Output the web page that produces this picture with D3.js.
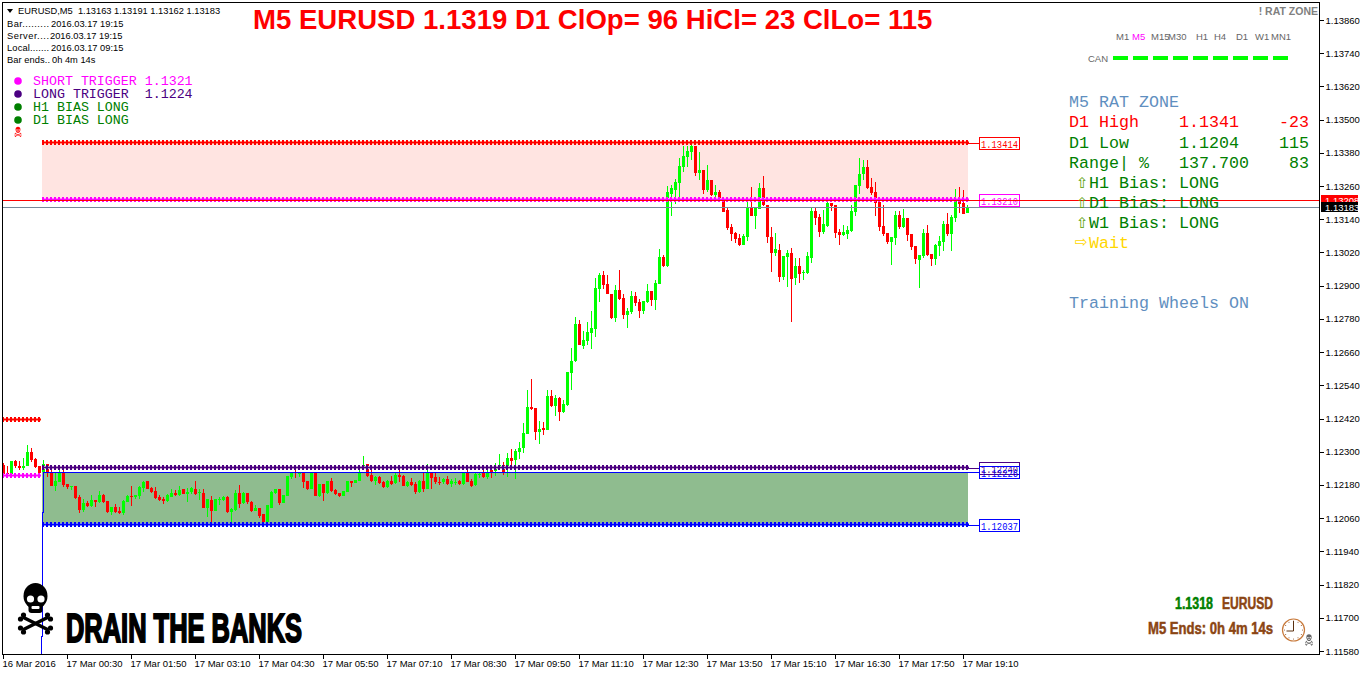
<!DOCTYPE html>
<html>
<head>
<meta charset="utf-8">
<script src="https://cdn.jsdelivr.net/npm/d3@7"></script>
<style>
  html, body { margin: 0; background: #fff; }
  svg { display: block; }
  text { white-space: pre; }
</style>
</head>
<body>
<script>
// EURUSD M5 quotes in points (1.13183 = 113183)
const opens = [
  112252,112222,112219,112266,112250,112241,112248,112299,112273,112248,
  112228,112255,112228,112177,112192,112224,112183,112172,112176,112136,
  112090,112114,112105,112125,112118,112143,112123,112082,112099,112085,
  112078,112119,112140,112136,112140,112169,112194,112169,112158,112136,
  112129,112121,112136,112150,112143,112165,112148,112154,112165,112150,
  112150,112096,112125,112085,112125,112125,112136,112082,112089,112150,
  112114,112150,112118,112085,112096,112075,112046,112098,112150,112165,
  112114,112141,112208,112225,112219,112225,112194,112165,112222,112140,
  112183,112150,112194,112161,112150,112140,112154,112194,112187,112194,
  112241,112255,112216,112194,112208,112190,112172,112194,112187,112216,
  112212,112176,112190,112183,112154,112194,112165,112223,112208,112192,
  112189,112201,112183,112189,112194,112183,112226,112194,112179,112216,
  112223,112208,112234,112231,112241,112252,112237,112277,112270,112299,
  112313,112364,112462,112458,112371,112386,112378,112501,112465,112494,
  112444,112469,112584,112628,112762,112682,112700,112729,112743,112888,
  112939,112906,112870,112783,112884,112856,112794,112805,112863,112841,
  112809,112841,112881,112848,112906,113003,112970,113231,113245,113270,
  113328,113364,113382,113404,113307,113317,113245,113281,113227,113238,
  113213,113173,113111,113090,113072,113046,113075,113183,113151,113176,
  113252,113191,113075,113017,113028,112931,113003,113017,112927,112970,
  112945,112945,112999,113169,113148,113093,113115,113198,113191,113093,
  113083,113086,113097,113166,113260,113303,113328,113256,113238,113202,
  113115,113090,113057,113072,113155,113111,113144,113086,113043,112992,
  113007,113090,113014,112996,113043,113057,113122,113086,113144,113209,
  113198,113163
];
const highs = [
  112260,112248,112267,112270,112267,112276,112324,112313,112276,112248,
  112270,112255,112240,112222,112240,112234,112183,112178,112176,112143,
  112131,112121,112142,112125,112158,112149,112123,112099,112111,112101,
  112125,112143,112176,112145,112176,112195,112194,112172,112173,112143,
  112137,112147,112167,112161,112176,112165,112169,112173,112194,112164,
  112165,112131,112140,112131,112137,112140,112140,112095,112161,112179,
  112155,112150,112121,112107,112096,112075,112107,112158,112165,112165,
  112143,112212,112223,112234,112225,112225,112194,112222,112222,112183,
  112183,112194,112205,112165,112150,112158,112194,112194,112197,112236,
  112284,112255,112240,112212,112212,112194,112197,112212,112222,112240,
  112216,112193,112205,112190,112197,112226,112255,112226,112222,112208,
  112204,112212,112201,112204,112197,112226,112237,112201,112226,112226,
  112237,112240,112240,112258,112291,112262,112294,112309,112309,112335,
  112404,112523,112563,112458,112411,112407,112523,112523,112505,112498,
  112487,112588,112675,112787,112776,112736,112769,112809,112928,112946,
  112953,112939,112870,112903,112957,112870,112819,112881,112877,112852,
  112845,112906,112881,112921,113032,113010,113260,113263,113285,113361,
  113404,113404,113414,113404,113382,113317,113336,113281,113263,113245,
  113213,113180,113122,113093,113086,113086,113209,113256,113180,113270,
  113296,113191,113111,113090,113050,113007,113028,113036,112999,112999,
  112956,113021,113180,113180,113158,113173,113209,113198,113191,113104,
  113119,113115,113191,113263,113361,113354,113354,113289,113274,113209,
  113191,113090,113075,113169,113169,113176,113144,113086,113043,113010,
  113104,113119,113014,113050,113079,113133,113161,113155,113249,113256,
  113245,113191
];
const lows = [
  112210,112204,112216,112243,112234,112234,112248,112264,112240,112219,
  112224,112210,112177,112158,112192,112172,112165,112161,112130,112080,
  112083,112101,112101,112101,112116,112116,112079,112070,112079,112075,
  112071,112117,112105,112128,112131,112155,112165,112152,112129,112121,
  112111,112118,112135,112140,112141,112147,112118,112149,112143,112125,
  112096,112063,112043,112085,112107,112121,112078,112047,112085,112095,
  112111,112111,112082,112085,112060,112046,112043,112095,112148,112107,
  112114,112141,112200,112204,112209,112169,112161,112165,112140,112136,
  112121,112147,112154,112143,112136,112140,112154,112173,112187,112194,
  112234,112210,112190,112179,112183,112169,112170,112179,112185,112192,
  112176,112172,112176,112147,112150,112154,112164,112165,112183,112179,
  112183,112179,112173,112179,112179,112179,112190,112172,112177,112204,
  112204,112200,112205,112212,112236,112216,112210,112248,112201,112273,
  112295,112364,112451,112342,112328,112360,112378,112462,112429,112411,
  112440,112465,112523,112624,112686,112671,112686,112671,112715,112841,
  112888,112870,112780,112769,112848,112780,112747,112798,112827,112783,
  112798,112837,112827,112812,112906,112967,112967,113151,113195,113220,
  113310,113328,113354,113296,113281,113231,113238,113223,113221,113209,
  113166,113101,113061,113054,113043,113046,113061,113151,113104,113176,
  113187,113054,112949,113007,112913,112920,112895,112768,112902,112909,
  112920,112942,112981,113119,113075,113086,113111,113169,113072,113046,
  113079,113068,113093,113151,113231,113281,113249,113227,113151,113097,
  113079,113050,112974,113046,113104,113108,113061,113028,112978,112891,
  112999,113007,112970,112974,113007,113025,113079,113025,113130,113162,
  113158,113162
];
const closes = [
  112216,112216,112266,112248,112241,112248,112299,112270,112245,112223,
  112255,112228,112177,112194,112224,112179,112172,112176,112132,112090,
  112114,112105,112125,112118,112143,112118,112082,112099,112082,112078,
  112121,112140,112137,112143,112172,112190,112165,112154,112132,112125,
  112121,112143,112150,112143,112161,112147,112155,112169,112147,112153,
  112096,112129,112085,112129,112129,112136,112082,112093,112150,112111,
  112150,112118,112085,112096,112067,112046,112106,112155,112165,112114,
  112143,112212,112223,112222,112223,112190,112165,112222,112140,112183,
  112150,112194,112158,112147,112140,112158,112194,112187,112197,112223,
  112252,112212,112194,112208,112187,112172,112194,112183,112216,112208,
  112176,112190,112179,112154,112194,112165,112226,112205,112190,112189,
  112201,112183,112194,112192,112183,112223,112190,112176,112219,112219,
  112208,112225,112225,112243,112252,112226,112277,112266,112302,112315,
  112368,112462,112454,112371,112382,112378,112501,112465,112494,112444,
  112472,112588,112628,112762,112686,112704,112733,112747,112892,112939,
  112903,112870,112783,112884,112852,112794,112809,112863,112837,112809,
  112845,112881,112848,112910,113004,112970,113238,113252,113274,113332,
  113368,113386,113404,113307,113317,113245,113281,113227,113238,113209,
  113166,113108,113086,113068,113046,113079,113183,113151,113180,113252,
  113191,113075,113017,113032,112931,113007,113017,112923,112970,112942,
  112949,113007,113169,113144,113093,113122,113198,113187,113090,113083,
  113093,113101,113169,113263,113303,113328,113252,113234,113198,113111,
  113086,113057,113075,113155,113111,113144,113083,113039,112996,113010,
  113090,113010,112996,113046,113061,113122,113086,113148,113209,113195,
  113158,113183
];

const priceTicks = [1.1158,1.1170,1.1182,1.1194,1.1206,1.1218,1.1230,1.1242,1.1254,1.1266,
                    1.1278,1.1290,1.1302,1.1314,1.1326,1.1338,1.1350,1.1362,1.1374,1.1386];
const timeLabels = ['16 Mar 2016','17 Mar 00:30','17 Mar 01:50','17 Mar 03:10','17 Mar 04:30','17 Mar 05:50',
                    '17 Mar 07:10','17 Mar 08:30','17 Mar 09:50','17 Mar 11:10','17 Mar 12:30','17 Mar 13:50',
                    '17 Mar 15:10','17 Mar 16:30','17 Mar 17:50','17 Mar 19:10'];
const BARS_PER_LABEL = 16;

const infoLabels = ['Bar.........','Server....','Local.......','Bar ends..'];
const infoValues = ['2016.03.17 19:15','2016.03.17 19:15','2016.03.17 09:15','0h 4m 14s'];
const legendLabels = ['SHORT TRIGGER 1.1321','LONG TRIGGER  1.1224','H1 BIAS LONG','D1 BIAS LONG'];
const legendColors = ['#ff00ff','#4b0082','#008000','#008000'];
const timeframes = ['M1','M5','M15','M30','H1','H4','D1','W1','MN1'];
const timeframeLeft = [1116,1132,1151,1168,1196,1214,1236,1255,1271];

const SHORT_TRIGGER = 1.13210, LONG_TRIGGER = 1.12240, RANGE_HIGH = 1.13414, RANGE_LOW = 1.12037, ZONE_LINE = 1.12226;
const OLD_HIGH = 1.12415, OLD_TRIGGER = 1.12213;
const ASK = 1.13208, BID = 1.13183;

const WIDTH = 1362, HEIGHT = 675;
const LEFT = 2, TOP = 2, RIGHT = 1319, BOTTOM = 654;
const UI_FONT = '"Liberation Sans", Arial, sans-serif';
const MONO_FONT = '"Liberation Mono", "Courier New", monospace';
const NARROW_FONT = '"Liberation Sans Narrow", "Liberation Sans", sans-serif';
const ARROW_FONT = '"DejaVu Sans", sans-serif';

const svg = d3.select('body').append('svg').attr('width', WIDTH).attr('height', HEIGHT);

const x = d3.scaleLinear().domain([0, opens.length - 1]).range([3, 967]);
const y = d3.scaleLinear().domain([1.1386, 1.1158]).range([20, 651]);
const py = p => Math.round(y(p));
const pts = v => v / 1e5;

// zones sit behind the candles
const zones = svg.append('g').attr('shape-rendering', 'crispEdges');
zones.append('rect').attr('x', x(10) - 1).attr('width', x(241) - x(10) + 2)
  .attr('y', py(RANGE_HIGH) - 1).attr('height', py(SHORT_TRIGGER) - py(RANGE_HIGH)).attr('fill', '#ffe4e1');
zones.append('rect').attr('x', x(10) - 1).attr('width', x(241) - x(10) + 2)
  .attr('y', py(ZONE_LINE)).attr('height', py(RANGE_LOW) - py(ZONE_LINE)).attr('fill', '#8fbc8f');

// candles
const candles = svg.append('g').attr('shape-rendering', 'crispEdges')
  .selectAll('g').data(opens).join('g');
candles.append('rect')
  .attr('x', (d, i) => x(i)).attr('width', 1)
  .attr('y', (d, i) => py(pts(highs[i])))
  .attr('height', (d, i) => Math.max(1, py(pts(lows[i])) - py(pts(highs[i]))))
  .attr('fill', (d, i) => closes[i] >= d ? '#00ff00' : '#ff0000');
candles.append('rect')
  .attr('x', (d, i) => x(i) - 1).attr('width', 3)
  .attr('y', (d, i) => py(pts(Math.max(d, closes[i]))))
  .attr('height', (d, i) => Math.max(1, py(pts(Math.min(d, closes[i]))) - py(pts(Math.max(d, closes[i])))))
  .attr('fill', (d, i) => closes[i] >= d ? '#00ff00' : '#ff0000');

// beaded level lines, one bead per bar, sitting a pixel above the level
function beadLine(level, from, to, line, bead) {
  const g = svg.append('g').attr('shape-rendering', 'crispEdges');
  g.append('rect').attr('x', x(from) - 1).attr('width', x(to) - x(from) + 3)
    .attr('y', py(level) - 2).attr('height', 3).attr('fill', bead);
  g.selectAll('rect.bead').data(d3.range(from, to + 1)).join('rect').attr('class', 'bead')
    .attr('x', d => x(d) - 1).attr('width', 2)
    .attr('y', py(level) - 3).attr('height', 5)
    .attr('fill', line);
  g.append('rect').attr('x', x(from) - 1).attr('width', x(to) - x(from) + 3)
    .attr('y', py(level) - 1).attr('height', 1).attr('fill', line);
}
beadLine(RANGE_HIGH, 10, 241, '#ff0000', '#ff8a70');
beadLine(SHORT_TRIGGER, 10, 241, '#ff00ff', '#ff80ff');
beadLine(LONG_TRIGGER, 10, 241, '#4b0082', '#b898c0');
beadLine(RANGE_LOW, 10, 241, '#0000ff', '#7088f0');
beadLine(OLD_HIGH, 0, 9, '#ff0000', '#ff8a70');
beadLine(OLD_TRIGGER, 0, 9, '#ff00ff', '#ff80ff');

// level tags at the right end of the zones
function levelTag(level, label, color, fromX) {
  const g = svg.append('g');
  g.append('line').attr('x1', fromX).attr('x2', 979).attr('y1', py(level) + 0.5).attr('y2', py(level) + 0.5)
    .attr('stroke', color).attr('shape-rendering', 'crispEdges');
  g.append('rect').attr('x', 979.5).attr('y', py(level) - 5.5).attr('width', 40).attr('height', 12)
    .attr('fill', 'none').attr('stroke', color).attr('shape-rendering', 'crispEdges');
  g.append('text').attr('x', 981).attr('y', py(level) + 4.5).attr('fill', color)
    .attr('textLength', 37).attr('lengthAdjust', 'spacingAndGlyphs')
    .style('font', `11px ${MONO_FONT}`).text(label);
}
levelTag(RANGE_HIGH, '1.13414', '#ff0000', 968);
levelTag(SHORT_TRIGGER, '1.13210', '#ff00ff', 968);
levelTag(LONG_TRIGGER, '1.12240', '#4b0082', 968);
levelTag(ZONE_LINE, '1.12226', '#0000ff', 968);
levelTag(RANGE_LOW, '1.12037', '#0000ff', 968);

// zone top edge and the bar-start marker
const blue = svg.append('g').attr('stroke', '#0000ff').attr('fill', 'none').attr('shape-rendering', 'crispEdges');
blue.append('line').attr('x1', x(10)).attr('x2', x(241) + 1).attr('y1', py(ZONE_LINE) + 0.5).attr('y2', py(ZONE_LINE) + 0.5);

// price lines
svg.append('line').attr('x1', LEFT).attr('x2', RIGHT).attr('y1', py(ASK) + 0.5).attr('y2', py(ASK) + 0.5)
  .attr('stroke', '#ff0000').attr('shape-rendering', 'crispEdges');
svg.append('line').attr('x1', LEFT).attr('x2', RIGHT).attr('y1', py(BID) + 0.5).attr('y2', py(BID) + 0.5)
  .attr('stroke', '#778899').attr('shape-rendering', 'crispEdges');

// skull and bones, drawn around its own middle
function skull(cx, cy, scale, color) {
  const g = svg.append('g').attr('transform', `translate(${cx},${cy}) scale(${scale})`);
  g.append('ellipse').attr('cx', 0).attr('cy', -13).attr('rx', 12).attr('ry', 13).attr('fill', color);
  g.append('rect').attr('x', -7).attr('y', -6).attr('width', 14).attr('height', 10).attr('rx', 3).attr('fill', color);
  g.selectAll('circle.eye').data([-5, 5.5]).join('circle').attr('class', 'eye')
    .attr('cx', d => d).attr('cy', -10).attr('r', 3.6).attr('fill', '#fff');
  g.append('rect').attr('x', -4).attr('y', -3).attr('width', 8).attr('height', 3).attr('rx', 1).attr('fill', '#fff');
  g.selectAll('line').data([[-13, 8, 13, 21], [13, 8, -13, 21]]).join('line')
    .attr('x1', d => d[0]).attr('y1', d => d[1]).attr('x2', d => d[2]).attr('y2', d => d[3])
    .attr('stroke', color).attr('stroke-width', 3.6);
  g.selectAll('circle.knob').data([[-12, 6], [-15, 10], [12, 6], [15, 10], [-12, 23], [-15, 19], [12, 23], [15, 19]])
    .join('circle').attr('class', 'knob')
    .attr('cx', d => d[0]).attr('cy', d => d[1]).attr('r', 2.6).attr('fill', color);
}
skull(35.5, 609, 1, '#000');
skull(18, 132, 0.2, '#ff0000');
skull(1309, 640, 0.22, '#666');

blue.append('path').attr('d', `M43.5,${py(ZONE_LINE)}V512H42.5V636H41.5V${BOTTOM}`);

// title and top-left info block
svg.append('text').attr('x', 253).attr('y', 29).attr('fill', '#ff0000')
  .style('font', `bold 27.57px ${UI_FONT}`)
  .text('M5 EURUSD 1.1319 D1 ClOp= 96 HiCl= 23 ClLo= 115');

svg.append('path').attr('d', 'M7,9H13L10,13Z').attr('fill', '#000');
svg.append('text').attr('x', 18).attr('y', 14).attr('fill', '#000')
  .style('font', `9.3px ${UI_FONT}`).text('EURUSD,M5  1.13163 1.13191 1.13162 1.13183');
const infoRow = (d, i) => 26.5 + i * 12.2;
const infoValueX = [51, 50, 51, 52];
const infoLabelW = [42, 42, 42, 43];
svg.append('g').selectAll('text').data(infoLabels).join('text')
  .attr('x', 7).attr('y', infoRow).attr('fill', '#000')
  .attr('textLength', (d, i) => infoLabelW[i]).attr('lengthAdjust', 'spacing')
  .style('font', `9.3px ${UI_FONT}`).text(d => d);
svg.append('g').selectAll('text').data(infoValues).join('text')
  .attr('x', (d, i) => infoValueX[i]).attr('y', infoRow).attr('fill', '#000')
  .style('font', `9.3px ${UI_FONT}`).text(d => d);

const legend = svg.append('g');
legend.selectAll('circle').data(legendColors).join('circle')
  .attr('cx', 18).attr('cy', (d, i) => 81 + i * 13).attr('r', 3.8).attr('fill', d => d);
legend.selectAll('text').data(legendLabels).join('text')
  .attr('x', 33).attr('y', (d, i) => 85 + i * 13).attr('fill', (d, i) => legendColors[i])
  .style('font', `13.3px ${MONO_FONT}`).text(d => d);

svg.append('text').attr('x', 66).attr('y', 641.5).attr('fill', '#000').attr('stroke', '#000').attr('stroke-width', 2)
  .attr('textLength', 236).attr('lengthAdjust', 'spacingAndGlyphs')
  .style('font', `bold 40px ${NARROW_FONT}`).text('DRAIN THE BANKS');

// top-right panel
svg.append('text').attr('x', 1318).attr('y', 15).attr('text-anchor', 'end').attr('fill', '#808080')
  .style('font', `bold 10.5px ${UI_FONT}`).text('! RAT ZONE');

svg.append('g').selectAll('text').data(timeframes).join('text')
  .attr('x', (d, i) => timeframeLeft[i]).attr('y', 39.5)
  .attr('fill', d => d === 'M5' ? '#ff00ff' : '#666')
  .style('font', `9.5px ${UI_FONT}`).text(d => d);
svg.append('text').attr('x', 1088).attr('y', 62).attr('fill', '#666')
  .style('font', `9.5px ${UI_FONT}`).text('CAN');
svg.append('g').attr('shape-rendering', 'crispEdges').selectAll('rect').data(timeframes).join('rect')
  .attr('x', (d, i) => 1113 + i * 20).attr('y', 56).attr('width', 15).attr('height', 4).attr('fill', '#00ff00');

function panelText(px, py_, s, color, anchor) {
  svg.append('text').attr('x', px).attr('y', py_).attr('fill', color)
    .attr('text-anchor', anchor || 'start')
    .style('font', `16.67px ${MONO_FONT}`).text(s);
}
function panelArrow(px, py_, s, color) {
  svg.append('text').attr('x', px).attr('y', py_).attr('fill', color)
    .style('font', `15px ${ARROW_FONT}`).text(s);
}
panelText(1069, 107, 'M5 RAT ZONE', '#5f8fc0');
panelText(1069, 127, 'D1 High', '#ff0000');
panelText(1179, 127, '1.1341', '#ff0000');
panelText(1309, 127, '-23', '#ff0000', 'end');
panelText(1069, 148, 'D1 Low', '#008000');
panelText(1179, 148, '1.1204', '#008000');
panelText(1309, 148, '115', '#008000', 'end');
panelText(1069, 168, 'Range| %', '#008000');
panelText(1179, 168, '137.700', '#008000');
panelText(1309, 168, '83', '#008000', 'end');
panelArrow(1076, 188, '\u21e7', '#5aa000');
panelText(1089, 188, 'H1 Bias: LONG', '#008000');
panelArrow(1076, 208, '\u21e7', '#5aa000');
panelText(1089, 208, 'D1 Bias: LONG', '#008000');
panelArrow(1076, 228, '\u21e7', '#5aa000');
panelText(1089, 228, 'W1 Bias: LONG', '#008000');
panelArrow(1075, 247, '\u21e8', '#ffd700');
panelText(1089, 248, 'Wait', '#ffd700');
panelText(1069, 308, 'Training Wheels ON', '#5f8fc0');

// bottom-right clock block
function heavyText(px, py_, len, s, color) {
  svg.append('text').attr('x', px).attr('y', py_).attr('fill', color).attr('stroke', color).attr('stroke-width', 0.5)
    .attr('textLength', len).attr('lengthAdjust', 'spacingAndGlyphs')
    .style('font', `bold 16px ${NARROW_FONT}`).text(s);
}
heavyText(1175, 609, 38, '1.1318', '#008000');
heavyText(1222, 609, 51, 'EURUSD', '#8b4513');
heavyText(1148, 634, 125, 'M5 Ends: 0h 4m 14s', '#8b4513');
const clock = svg.append('g').attr('transform', 'translate(1293.5,630)');
clock.append('circle').attr('r', 11).attr('fill', '#fff').attr('stroke', '#c87a3c').attr('stroke-width', 1.2);
clock.selectAll('circle.mark').data(d3.range(12)).join('circle').attr('class', 'mark')
  .attr('cx', d => 9 * Math.cos(d * Math.PI / 6)).attr('cy', d => 9 * Math.sin(d * Math.PI / 6))
  .attr('r', 0.5).attr('fill', '#8b4513');
clock.append('path').attr('d', 'M-7,1H0V-9').attr('fill', 'none').attr('stroke', '#5a3010');

// axes
const yAxis = svg.append('g').attr('transform', `translate(${RIGHT + 0.5},0)`)
  .call(d3.axisRight(y).tickValues(priceTicks).tickFormat(d => d.toFixed(5)).tickSize(4).tickPadding(2));
const xAxis = svg.append('g').attr('transform', `translate(0,${BOTTOM + 0.5})`)
  .call(d3.axisBottom(x).tickValues(timeLabels.map((d, i) => i * BARS_PER_LABEL))
    .tickFormat((d, i) => timeLabels[i]).tickSize(4).tickPadding(2));
yAxis.select('.domain').remove();
xAxis.select('.domain').remove();
xAxis.selectAll('.tick').attr('transform', d => `translate(${x(d) + 0.5},0)`);
xAxis.selectAll('text').attr('text-anchor', 'start').attr('dx', -1);
svg.selectAll('.tick line').attr('stroke', '#000').attr('shape-rendering', 'crispEdges');
svg.selectAll('.tick text').attr('fill', '#000').style('font', `9.5px ${UI_FONT}`);

// chart frame
svg.append('path').attr('d', `M${LEFT + 0.5},${BOTTOM + 0.5}V${TOP + 0.5}H${RIGHT + 0.5}V${BOTTOM + 0.5}Z`)
  .attr('fill', 'none').attr('stroke', '#000').attr('shape-rendering', 'crispEdges');

// current price tags on the axis
[[ASK, '#ff0000', '#fff'], [BID, '#000', '#fff']].forEach(([p, bg, fg]) => {
  svg.append('rect').attr('x', 1321).attr('y', py(p) - 5).attr('width', 37).attr('height', 10)
    .attr('fill', bg).attr('shape-rendering', 'crispEdges');
  svg.append('text').attr('x', 1325).attr('y', py(p) + 3.5).attr('fill', fg)
    .style('font', `9.5px ${UI_FONT}`).text(p.toFixed(5));
});
</script>
</body>
</html>
